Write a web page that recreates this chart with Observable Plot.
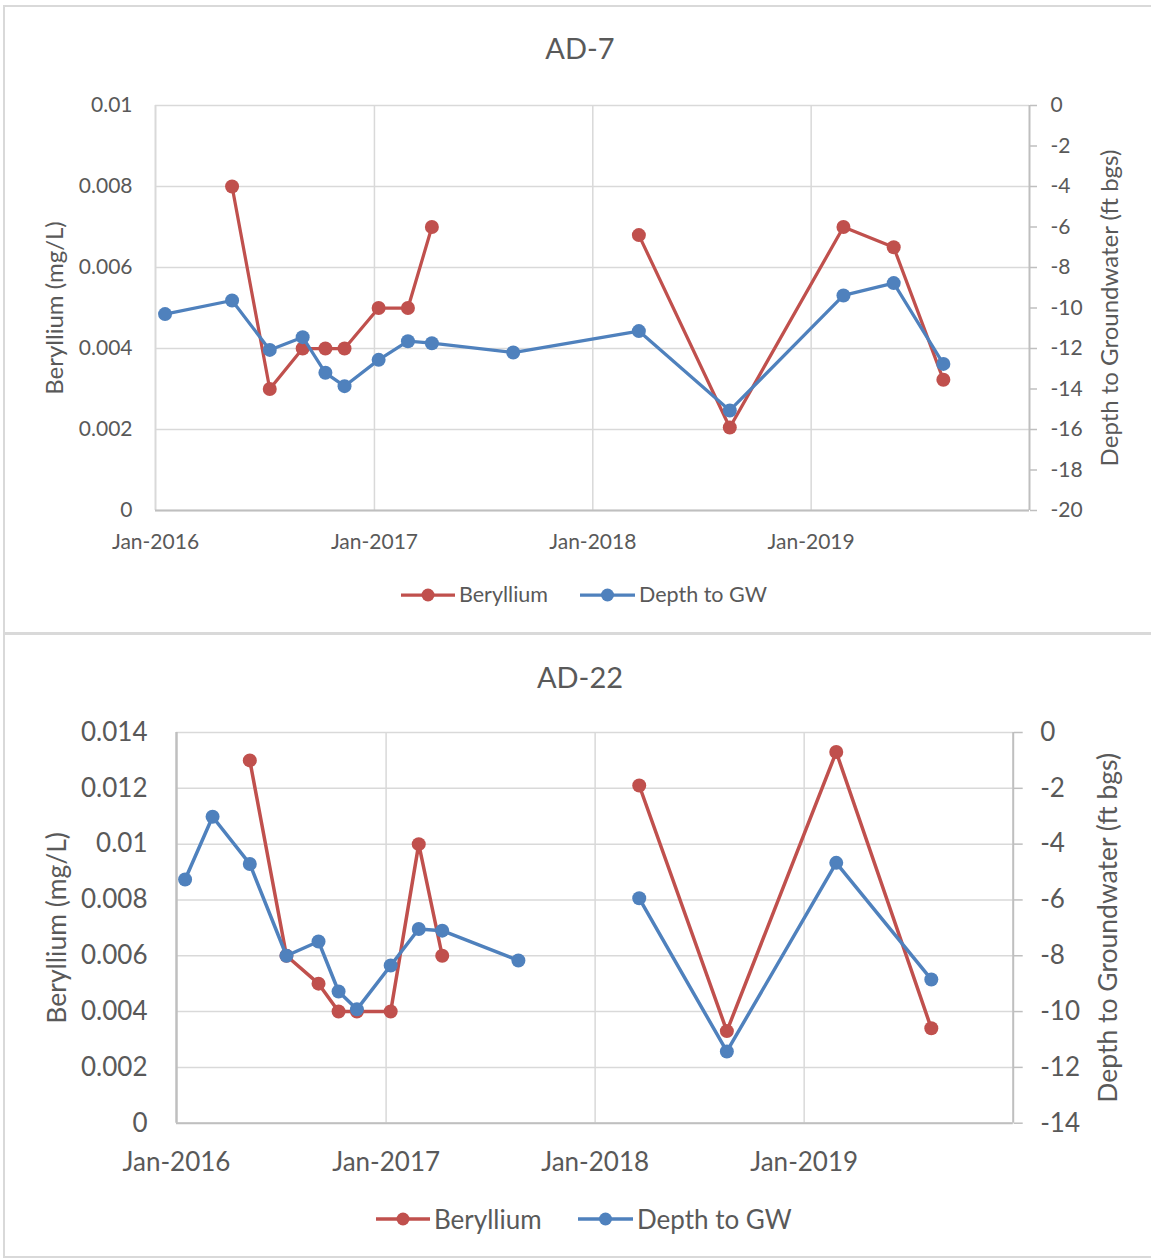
<!DOCTYPE html>
<html>
<head>
<meta charset="utf-8">
<script src="https://cdn.jsdelivr.net/npm/d3@7"></script>
<script src="https://cdn.jsdelivr.net/npm/@observablehq/plot@0.6"></script>
<style>
  html, body { margin: 0; padding: 0; background: #fff; }
  body { font-family: Lato, "Open Sans", sans-serif; color: #595959; }
  #page { position: relative; width: 1151px; height: 1258px; overflow: hidden; }
  .panel { position: absolute; border: 2px solid #d9d9d9; box-sizing: border-box; }
  .title { position: absolute; left: 0; width: 1160px; text-align: center; line-height: 1; white-space: nowrap; }
  .chart { position: absolute; left: 0; }
  .legitem { position: absolute; display: flex; align-items: center; height: 30px; white-space: nowrap; }
  .legitem span { line-height: 1; }
</style>
</head>
<body>
<div id="page"></div>
<script>
// ---------- DATA ----------
// AD-7
const ad7Dates = ["2016-01-17","2016-05-08","2016-07-10","2016-09-03","2016-10-11","2016-11-12","2017-01-08","2017-02-26","2017-04-07","2017-08-21","2018-03-19","2018-08-18","2019-02-24","2019-05-19","2019-08-10"];
const ad7Beryllium = [null,0.008,0.003,0.004,0.004,0.004,0.005,0.005,0.007,null,0.0068,0.00205,0.007,0.0065,0.00323];
const ad7Depth = [-10.3,-9.63,-12.07,-11.44,-13.2,-13.86,-12.56,-11.64,-11.74,-12.2,-11.14,-15.06,-9.38,-8.77,-12.76];
const ad7BeTicks = [0,0.002,0.004,0.006,0.008,0.01];
const ad7DepthTicks = [0,-2,-4,-6,-8,-10,-12,-14,-16,-18,-20];

// AD-22 (blank cells break the lines)
const ad22Dates = ["2016-01-16","2016-03-04","2016-05-08","2016-07-11","2016-09-05","2016-10-10","2016-11-11","2017-01-09","2017-02-27","2017-04-09","2017-08-20","2017-11-15","2018-03-19","2018-08-19","2019-02-26","2019-08-11"];
const ad22Beryllium = [null,null,0.013,0.006,0.005,0.004,0.004,0.004,0.010,0.006,null,null,0.0121,0.0033,0.0133,0.0034];
const ad22Depth = [-5.27,-3.02,-4.71,-8.0,-7.49,-9.28,-9.92,-8.35,-7.04,-7.1,-8.17,null,-5.94,-11.43,-4.67,-8.85];
const ad22BeTicks = [0,0.002,0.004,0.006,0.008,0.01,0.012,0.014];
const ad22DepthTicks = [0,-2,-4,-6,-8,-10,-12,-14];

const yearTicks = ["2016-01-01","2017-01-01","2018-01-01","2019-01-01"];
const gridYears = ["2017-01-01","2018-01-01","2019-01-01"];
const xDomain = ["2016-01-01","2020-01-01"];
const seriesNames = ["Beryllium","Depth to GW"];
const leftTitle = "Beryllium (mg/L)";
const rightTitle = "Depth to Groundwater (ft bgs)";

const RED = "#C0504D", BLUE = "#4F81BD", TXT = "#595959";

const page = document.getElementById("page");

function el(tag, cls, style, text) {
  const e = document.createElement(tag);
  if (cls) e.className = cls;
  Object.assign(e.style, style || {});
  if (text != null) e.textContent = text;
  return e;
}

function legendItem(x, yc, color, label, fs, sw, r, lineW) {
  const item = el("div", "legitem", {left: x + "px", top: (yc - 15) + "px", fontSize: fs + "px"});
  const svg = document.createElementNS("http://www.w3.org/2000/svg", "svg");
  svg.setAttribute("width", lineW); svg.setAttribute("height", 30);
  svg.innerHTML = `<line x1="0" x2="${lineW}" y1="15" y2="15" stroke="${color}" stroke-width="${sw}"/><circle cx="${lineW/2}" cy="15" r="${r}" fill="${color}"/>`;
  item.appendChild(svg);
  const s = el("span", null, {marginLeft: "4px"}, label);
  item.appendChild(s);
  return item;
}

function drawPanel(cfg) {
  const rows = cfg.dates.map((d, i) => ({date: new Date(d), be: cfg.be[i], depth: cfg.depth[i]}));
  const depthToBe = d3.scaleLinear([cfg.depthTicks[cfg.depthTicks.length - 1], 0], [0, cfg.beTicks[cfg.beTicks.length - 1]]);
  const fmtBe = v => String(+v.toFixed(3));
  const fmtDepth = v => String(Math.round(depthToBe.invert(v)));
  const fs = cfg.fontSize;

  const chart = Plot.plot({
    width: 1151,
    height: cfg.height,
    marginLeft: cfg.mLeft, marginRight: cfg.mRight, marginTop: cfg.mTop, marginBottom: cfg.mBottom,
    style: {fontFamily: "Lato, 'Open Sans', sans-serif", color: TXT, background: "transparent", overflow: "visible"},
    x: {type: "utc", domain: xDomain.map(d => new Date(d)), axis: null},
    y: {domain: [0, cfg.beTicks[cfg.beTicks.length - 1]], axis: null},
    marks: [
      Plot.gridY(cfg.beTicks, {stroke: "#d9d9d9", strokeOpacity: 1, strokeWidth: 1.5}),
      Plot.gridX(gridYears.map(d => new Date(d)), {stroke: "#d9d9d9", strokeOpacity: 1, strokeWidth: 1.5}),
      Plot.ruleX([new Date(xDomain[0])], {stroke: cfg.leftAxisColor, strokeWidth: cfg.leftAxisWidth}),
      Plot.ruleX([new Date(xDomain[1])], {stroke: "#bfbfbf", strokeWidth: 2}),
      Plot.ruleY([0], {stroke: "#bfbfbf", strokeWidth: 2}),
      Plot.axisY(cfg.beTicks, {anchor: "left", tickSize: 0, tickPadding: cfg.yPad, tickFormat: fmtBe, fontSize: fs, fill: TXT, label: null}),
      Plot.axisY(cfg.depthTicks.map(depthToBe), {anchor: "right", tickSize: cfg.rTick, tickPadding: cfg.rPad, tickFormat: fmtDepth, fontSize: fs, fill: TXT, stroke: "#bfbfbf", strokeWidth: 1.5, label: null}),
      Plot.axisX(yearTicks.map(d => new Date(d)), {anchor: "bottom", tickSize: 0, tickPadding: cfg.xPad, tickFormat: d3.utcFormat("%b-%Y"), fontSize: fs, fill: TXT, label: null}),
      Plot.text([leftTitle], {text: d => d, frameAnchor: "left", textAnchor: "middle", lineAnchor: "middle", rotate: -90, dx: cfg.leftTitleDx, fontSize: cfg.axisTitleSize, fill: TXT}),
      Plot.text([rightTitle], {text: d => d, frameAnchor: "right", textAnchor: "middle", lineAnchor: "middle", rotate: -90, dx: cfg.rightTitleDx, fontSize: cfg.axisTitleSize, fill: TXT}),
      Plot.line(rows, {x: "date", y: d => d.be == null ? NaN : d.be, stroke: RED, strokeWidth: cfg.lineW}),
      Plot.dot(rows.filter(d => d.be != null), {x: "date", y: "be", r: cfg.dotR, fill: RED}),
      Plot.line(rows, {x: "date", y: d => d.depth == null ? NaN : depthToBe(d.depth), stroke: BLUE, strokeWidth: cfg.lineW}),
      Plot.dot(rows.filter(d => d.depth != null), {x: "date", y: d => depthToBe(d.depth), r: cfg.dotR, fill: BLUE})
    ]
  });
  chart.classList.add("chart");
  chart.style.top = cfg.svgTop + "px";
  page.appendChild(chart);

  page.appendChild(el("div", "title", {top: cfg.titleTop + "px", fontSize: cfg.titleSize + "px"}, cfg.title));
  page.appendChild(legendItem(cfg.leg[0], cfg.legY, RED, seriesNames[0], cfg.legFont, cfg.lineW, cfg.dotR - 0.5, 54));
  page.appendChild(legendItem(cfg.leg[1], cfg.legY, BLUE, seriesNames[1], cfg.legFont, cfg.lineW, cfg.dotR - 0.5, 55));
}

// panel frames
page.appendChild(el("div", "panel", {left: "3px", top: "5px", width: "1160px", height: "630px"}));
page.appendChild(el("div", "panel", {left: "3px", top: "632px", width: "1160px", height: "626px"}));

drawPanel({
  title: "AD-7", titleTop: 33, titleSize: 29,
  dates: ad7Dates, be: ad7Beryllium, depth: ad7Depth, beTicks: ad7BeTicks, depthTicks: ad7DepthTicks,
  svgTop: 80, height: 480, mLeft: 155, mRight: 122, mTop: 25, mBottom: 50,
  fontSize: 21, yPad: 23, xPad: 24, rTick: 7, rPad: 14,
  axisTitleSize: 24, leftTitleDx: -100, rightTitleDx: 81,
  leftAxisColor: "#d9d9d9", leftAxisWidth: 2,
  lineW: 3.25, dotR: 7,
  leg: [401, 580], legY: 595, legFont: 21.5
});

drawPanel({
  title: "AD-22", titleTop: 662, titleSize: 29,
  dates: ad22Dates, be: ad22Beryllium, depth: ad22Depth, beTicks: ad22BeTicks, depthTicks: ad22DepthTicks,
  svgTop: 700, height: 500, mLeft: 176, mRight: 138.3, mTop: 32, mBottom: 77.3,
  fontSize: 26, yPad: 29, xPad: 29, rTick: 9, rPad: 18,
  axisTitleSize: 26.5, leftTitleDx: -119, rightTitleDx: 95,
  leftAxisColor: "#bfbfbf", leftAxisWidth: 2.5,
  lineW: 3.5, dotR: 7,
  leg: [376, 578], legY: 1219, legFont: 26
});
</script>
</body>
</html>
